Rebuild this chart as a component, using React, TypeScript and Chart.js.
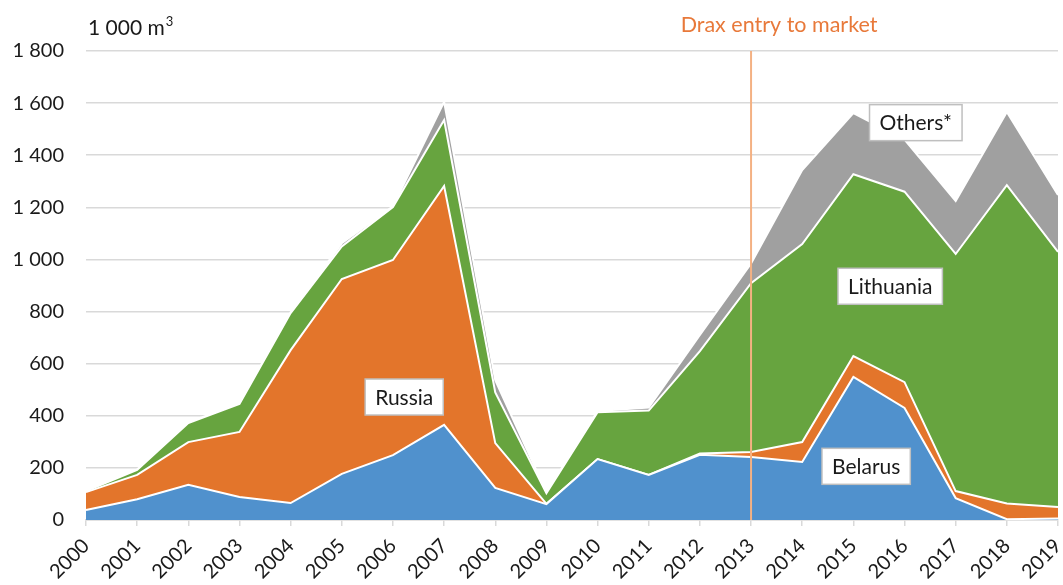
import React, { useEffect, useRef } from "react";
import { Chart, registerables } from "chart.js";

Chart.register(...registerables);

const years = ["2000","2001","2002","2003","2004","2005","2006","2007","2008","2009","2010","2011","2012","2013","2014","2015","2016","2017","2018","2019"];
const belarus = [38, 80, 135, 88, 65, 177, 249, 365, 123, 61, 234, 173, 250, 242, 223, 549, 430, 84, 3, 6];
const russia = [69, 93, 164, 250, 587, 748, 749, 917, 172, 1, 0, 0, 5, 19, 76, 80, 99, 27, 60, 44];
const lithuania = [4, 19, 73, 107, 142, 125, 203, 253, 195, 41, 180, 247, 393, 648, 760, 698, 731, 910, 1222, 979];
const others = [2, 2, 3, 2, 3, 12, 3, 70, 47, 3, 4, 12, 62, 76, 284, 235, 200, 203, 281, 218];
const yTicks = [0, 200, 400, 600, 800, 1000, 1200, 1400, 1600, 1800];

const seriesNames = ["Belarus", "Russia", "Lithuania", "Others*"];
const seriesColors = ["#5091CD", "#E3752B", "#67A43F", "#A0A0A0"];
const markerIndex = 13;
const markerText = "Drax entry to market";
const unitText = "1 000 m";
// label anchor positions (category index, value)
const labelPos = [
  { text: "Russia", x: 6.22, y: 472 },
  { text: "Belarus", x: 15.25, y: 206 },
  { text: "Lithuania", x: 15.72, y: 897 },
  { text: "Others*", x: 16.22, y: 1525 },
];

const FONT = "Lato, 'Open Sans', sans-serif";

const fmt = (v: number) => String(v).replace(/\B(?=(\d{3})+(?!\d))/g, " ");

const overlay = {
  id: "overlay",
  afterDatasetsDraw(chart: any) {
    const { ctx, chartArea, scales } = chart;
    const x = scales.x.getPixelForValue(markerIndex);
    ctx.save();
    ctx.strokeStyle = "#F4B183";
    ctx.lineWidth = 2;
    ctx.beginPath();
    ctx.moveTo(x, chartArea.top);
    ctx.lineTo(x, chartArea.bottom);
    ctx.stroke();

    ctx.fillStyle = "#E8793A";
    ctx.font = `21.5px ${FONT}`;
    ctx.textAlign = "center";
    ctx.textBaseline = "alphabetic";
    ctx.fillText(markerText, x + 28, 32);

    // unit
    ctx.fillStyle = "#1a1a1a";
    ctx.textAlign = "left";
    ctx.font = `21px ${FONT}`;
    ctx.fillText(unitText, 88, 35);
    const w = ctx.measureText(unitText).width;
    ctx.font = `13px ${FONT}`;
    ctx.fillText("3", 88 + w + 1, 26);

    // labels
    ctx.font = `21px ${FONT}`;
    ctx.textAlign = "center";
    ctx.textBaseline = "middle";
    for (const l of labelPos) {
      const px = scales.x.getPixelForValue(l.x);
      const py = scales.y.getPixelForValue(l.y);
      const tw = ctx.measureText(l.text).width;
      const bw = tw + 20;
      const bh = 36;
      ctx.fillStyle = "#ffffff";
      ctx.fillRect(px - bw / 2, py - bh / 2, bw, bh);
      ctx.strokeStyle = "#BFBFBF";
      ctx.lineWidth = 1.5;
      ctx.strokeRect(px - bw / 2, py - bh / 2, bw, bh);
      ctx.fillStyle = "#1a1a1a";
      ctx.fillText(l.text, px, py + 1);
    }
    ctx.restore();
  },
};

export default function App() {
  const ref = useRef<HTMLCanvasElement | null>(null);
  useEffect(() => {
    if (!ref.current) return;
    const values = [belarus, russia, lithuania, others];
    const chart = new Chart(ref.current, {
      type: "line",
      data: {
        labels: years,
        datasets: values.map((d, i) => ({
          label: seriesNames[i],
          data: d,
          backgroundColor: seriesColors[i],
          borderColor: "#ffffff",
          borderWidth: 2,
          pointRadius: 0,
          tension: 0,
          fill: i === 0 ? "origin" : "-1",
        })),
      },
      options: {
        responsive: false,
        animation: false,
        layout: { padding: { top: 51, right: 5, left: 0, bottom: 0 } },
        plugins: { legend: { display: false }, tooltip: { enabled: false } },
        scales: {
          x: {
            offset: false,
            grid: { drawOnChartArea: false, drawTicks: true, tickLength: 6, color: "#D9D9D9", lineWidth: 1.5 },
            border: { display: true, color: "#D9D9D9", width: 1.5 },
            ticks: {
              autoSkip: false,
              maxRotation: 45,
              minRotation: 45,
              padding: 8,
              color: "#1a1a1a",
              font: { family: FONT, size: 20 },
            },
            afterFit(scale: any) {
              scale.height = 65;
              scale.paddingLeft = 0;
              scale.paddingRight = 0;
            },
          },
          y: {
            stacked: true,
            min: 0,
            max: 1800,
            afterBuildTicks(scale: any) {
              scale.ticks = yTicks.map((v) => ({ value: v }));
            },
            grid: { drawTicks: false, color: "#D9D9D9", lineWidth: 1.5 },
            border: { display: false },
            ticks: {
              padding: 22,
              color: "#1a1a1a",
              font: { family: FONT, size: 20 },
              callback: (v: any) => fmt(Number(v)),
            },
            afterFit(scale: any) {
              scale.width = 86;
              scale.paddingTop = 0;
              scale.paddingBottom = 0;
            },
          },
        },
      },
      plugins: [overlay],
    });
    return () => chart.destroy();
  }, []);
  return (
    <div style={{ position: "fixed", left: 0, top: 0, width: 1063, height: 585, background: "#fff" }}>
      <canvas ref={ref} width={1063} height={585} style={{ display: "block" }} />
    </div>
  );
}
